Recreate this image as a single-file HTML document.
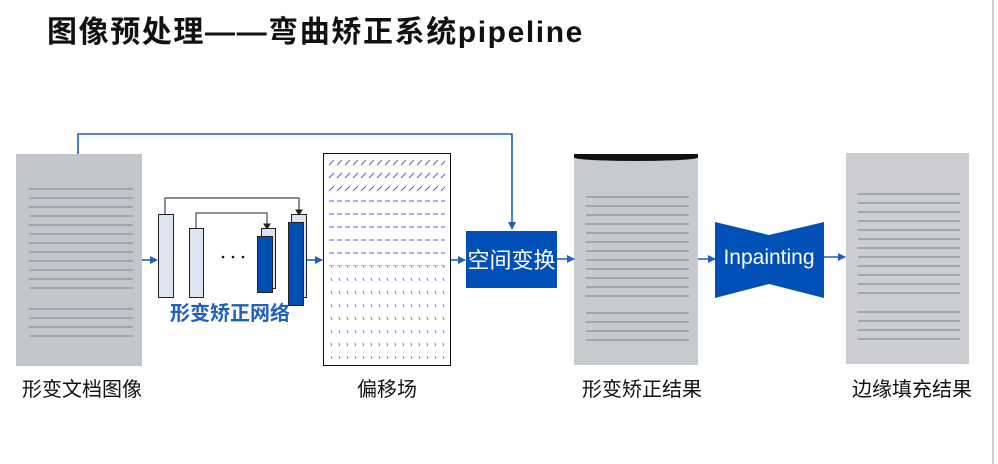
<!DOCTYPE html>
<html><head><meta charset="utf-8"><style>
body{margin:0;width:998px;height:464px;background:#fff;position:relative;overflow:hidden;font-family:"Liberation Sans","Noto Sans CJK SC",sans-serif}
.t{position:absolute;left:47px;top:7px;font-size:30px;font-weight:bold;color:#111;letter-spacing:1.6px}
.doc{position:absolute;background:#c9ccd0}
.doc .txt{position:absolute;left:10%;right:7%;background:repeating-linear-gradient(transparent 0 6px,#a2a6ac 6px 8px,transparent 8px 9px)}
.lab{position:absolute;top:373px;font-size:20px;color:#111;text-align:center;width:160px}
</style></head><body>
<div class="t">图像预处理——弯曲矫正系统pipeline</div>

<div class="doc" style="left:16px;top:154px;width:126px;height:212px;background:#c3c7cb">
 <div class="txt" style="top:28px;height:112px"></div>
 <div class="txt" style="top:148px;height:40px"></div>
</div>
<div class="doc" style="left:574px;top:154px;width:124px;height:211px;background:#c8cbce">
 <div style="position:absolute;left:0;right:0;top:0;height:7px;background:#111;border-radius:0 0 50% 50%"></div>
 <div class="txt" style="top:36px;height:108px"></div>
 <div class="txt" style="top:152px;height:36px"></div>
</div>
<div class="doc" style="left:846px;top:153px;width:123px;height:211px;background:#cbcdd0">
 <div class="txt" style="top:34px;height:110px"></div>
 <div class="txt" style="top:152px;height:36px"></div>
</div>

<svg width="998" height="464" style="position:absolute;left:0;top:0">
<defs>
<marker id="a" markerWidth="8" markerHeight="8" refX="7" refY="4" orient="auto" markerUnits="userSpaceOnUse"><path d="M0,0 L8,4 L0,8z" fill="#1f5fbf"/></marker>
<pattern id="p1" width="8" height="13" patternUnits="userSpaceOnUse"><line x1="1" y1="9" x2="6" y2="4" stroke="#5555ee" stroke-width="1"/></pattern>
<pattern id="p2" width="8" height="13" patternUnits="userSpaceOnUse"><line x1="1" y1="6" x2="6" y2="6" stroke="#5555ee" stroke-width="1"/></pattern>
<pattern id="p3" width="8" height="13" patternUnits="userSpaceOnUse"><line x1="3" y1="5" x2="4" y2="8" stroke="#7777ee" stroke-width="1"/></pattern>
</defs>
<g stroke="#1f5fbf" stroke-width="1.6" fill="none">
<polyline points="78,154 78,134 512,134 512,229" marker-end="url(#a)"/>
<line x1="142" y1="260" x2="157" y2="260" marker-end="url(#a)"/>
<line x1="306" y1="260" x2="322" y2="260" marker-end="url(#a)"/>
<line x1="451" y1="260" x2="465" y2="260" marker-end="url(#a)"/>
<line x1="557" y1="259" x2="574" y2="259" marker-end="url(#a)"/>
<line x1="698" y1="259" x2="715" y2="259" marker-end="url(#a)"/>
<line x1="824" y1="257" x2="845" y2="257" marker-end="url(#a)"/>
</g>
<line x1="993" y1="0" x2="993" y2="464" stroke="#ccc" stroke-width="2"/>
<g stroke="#222" stroke-width="1">
<polyline points="165,214 165,198 299,198 299,213" fill="none" stroke="#666" stroke-width="1.5"/>
<polyline points="196,228 196,213 267,213 267,227" fill="none"/>
<path d="M296,210 L302,210 L299,215z" fill="#222"/>
<path d="M264,224 L270,224 L267,229z" fill="#222"/>
<rect x="158.5" y="214.5" width="15" height="83" fill="#dce4f2"/>
<rect x="189.5" y="228.5" width="14" height="69" fill="#dce4f2"/>
<rect x="261.5" y="228.5" width="14" height="60" fill="#dce4f2"/>
<rect x="257.5" y="236.5" width="15" height="56" fill="#0050b4"/>
<rect x="291.5" y="214.5" width="15" height="83" fill="#dce4f2"/>
<rect x="288.5" y="222.5" width="15" height="83" fill="#0050b4"/>
</g>
<g fill="#111"><circle cx="223" cy="257" r="1.3"/><circle cx="233" cy="257" r="1.3"/><circle cx="243" cy="257" r="1.3"/></g>
<text x="230" y="320" text-anchor="middle" font-size="20" font-weight="bold" fill="#1f5fbf" font-family="Liberation Sans,Noto Sans CJK SC,sans-serif">形变矫正网络</text>
<rect x="323.5" y="153.5" width="127" height="212" fill="#fff" stroke="#111"/>
<rect x="327" y="158" width="118" height="40" fill="url(#p1)"/>
<rect x="327" y="198" width="118" height="68" fill="url(#p2)"/>
<rect x="327" y="266" width="118" height="96" fill="url(#p3)"/>
<rect x="466" y="231" width="91" height="57" fill="#0050b8"/>
<text x="511.5" y="268" text-anchor="middle" font-size="22" fill="#fff" font-family="Liberation Sans,Noto Sans CJK SC,sans-serif">空间变换</text>
<path d="M715,222 L769,235 L824,222 L824,298 L769,284 L715,298z" fill="#0050b8"/>
<text x="769" y="264" text-anchor="middle" font-size="21" fill="#fff" font-family="Liberation Sans,sans-serif">Inpainting</text>
</svg>

<div class="lab" style="left:2px">形变文档图像</div>
<div class="lab" style="left:307px">偏移场</div>
<div class="lab" style="left:562px">形变矫正结果</div>
<div class="lab" style="left:832px">边缘填充结果</div>
</body></html>
